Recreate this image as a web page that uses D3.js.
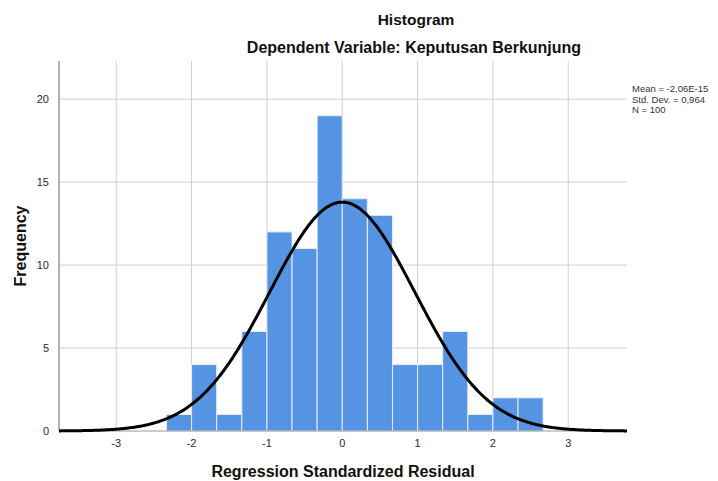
<!DOCTYPE html>
<html>
<head>
<meta charset="utf-8">
<script src="https://cdn.jsdelivr.net/npm/d3@7"></script>
<style>
  body { margin: 0; background: #fff; }
  text { font-family: "Liberation Sans", Arial, sans-serif; }
</style>
</head>
<body>
<svg id="chart" width="718" height="481"></svg>
<script>
// bin edges (width 1/3) and counts
var binStarts = [-7/3, -2, -5/3, -4/3, -1, -2/3, -1/3, 0, 1/3, 2/3, 1, 4/3, 5/3, 2, 7/3];
var counts    = [1, 4, 1, 6, 12, 11, 19, 14, 13, 4, 4, 6, 1, 2, 2];
var binWidth = 1/3;

var xTicks = [-3, -2, -1, 0, 1, 2, 3];
var yTicks = [0, 5, 10, 15, 20];

var stats = { mean: -2.06e-15, sd: 0.964, n: 100 };
var legendLines = ["Mean = -2,06E-15", "Std. Dev. = 0,964", "N = 100"];

var svg = d3.select("#chart"),
    margin = {top: 61, right: 91, bottom: 50, left: 59},
    width = 718 - margin.left - margin.right,
    height = 481 - margin.top - margin.bottom;

var g = svg.append("g").attr("transform", "translate(" + margin.left + "," + margin.top + ")");

var x = d3.scaleLinear().domain([-3.76, 3.78]).range([0, width]);
var y = d3.scaleLinear().domain([0, 22.3]).range([height, 0]);

// grid
g.selectAll(".vgrid").data(xTicks).enter().append("line")
    .attr("x1", function(d) { return x(d); })
    .attr("x2", function(d) { return x(d); })
    .attr("y1", 0).attr("y2", height)
    .attr("stroke", "#cfcfcf").attr("stroke-width", 1);

g.selectAll(".hgrid").data(yTicks.slice(1)).enter().append("line")
    .attr("x1", 0).attr("x2", width)
    .attr("y1", function(d) { return y(d); })
    .attr("y2", function(d) { return y(d); })
    .attr("stroke", "#cfcfcf").attr("stroke-width", 1);

// bars
g.selectAll("rect").data(counts).enter().append("rect")
    .attr("x", function(d, i) { return x(binStarts[i]); })
    .attr("width", function(d, i) { return x(binStarts[i] + binWidth) - x(binStarts[i]); })
    .attr("y", function(d) { return y(d); })
    .attr("height", function(d) { return height - y(d); })
    .attr("fill", "#5593e3")
    .attr("stroke", "#e8eef8")
    .attr("stroke-width", 1);

// axes lines
g.append("line").attr("x1", 0).attr("x2", 0).attr("y1", 0).attr("y2", height)
    .attr("stroke", "#9a9a9a").attr("stroke-width", 1.5);
g.append("line").attr("x1", 0).attr("x2", width).attr("y1", height).attr("y2", height)
    .attr("stroke", "#9a9a9a").attr("stroke-width", 1);

// normal curve from mean, sd, N
var curveX = d3.range(-3.76, 3.781, 0.02);
var dens = function(v) {
  var z = (v - stats.mean) / stats.sd;
  return stats.n * binWidth * Math.exp(-0.5 * z * z) / (stats.sd * Math.sqrt(2 * Math.PI));
};
var line = d3.line()
    .x(function(d) { return x(d); })
    .y(function(d) { return y(dens(d)); })
    .curve(d3.curveBasis);
g.append("path").datum(curveX)
    .attr("fill", "none")
    .attr("stroke", "#000")
    .attr("stroke-width", 3)
    .attr("stroke-linejoin", "round")
    .attr("d", line);

// tick labels
g.selectAll(".xt").data(xTicks).enter().append("text")
    .attr("x", function(d) { return x(d); })
    .attr("y", height + 16)
    .attr("text-anchor", "middle")
    .attr("font-size", 11)
    .attr("fill", "#2b2b2b")
    .text(function(d) { return d; });

g.selectAll(".yt").data(yTicks).enter().append("text")
    .attr("x", -10)
    .attr("y", function(d) { return y(d); })
    .attr("dy", "0.35em")
    .attr("text-anchor", "end")
    .attr("font-size", 11)
    .attr("fill", "#2b2b2b")
    .text(function(d) { return d; });

// axis titles
g.append("text")
    .attr("x", width / 2).attr("y", height + 46)
    .attr("text-anchor", "middle")
    .attr("font-size", 16).attr("font-weight", "bold").attr("fill", "#111")
    .text("Regression Standardized Residual");

svg.append("text")
    .attr("transform", "translate(26," + (margin.top + height * 0.5) + ") rotate(-90)")
    .attr("text-anchor", "middle")
    .attr("font-size", 16).attr("font-weight", "bold").attr("fill", "#111")
    .text("Frequency");

// titles
svg.append("text")
    .attr("x", 416).attr("y", 25)
    .attr("text-anchor", "middle")
    .attr("font-size", 15.5).attr("font-weight", "bold").attr("fill", "#111")
    .text("Histogram");
svg.append("text")
    .attr("x", 414).attr("y", 53)
    .attr("text-anchor", "middle")
    .attr("font-size", 16).attr("font-weight", "bold").attr("fill", "#111")
    .text("Dependent Variable: Keputusan Berkunjung");

// legend
svg.selectAll(".leg").data(legendLines).enter().append("text")
    .attr("x", 632)
    .attr("y", function(d, i) { return 92 + i * 10.5; })
    .attr("font-size", 9.5)
    .attr("fill", "#333")
    .text(function(d) { return d; });
</script>
</body>
</html>
